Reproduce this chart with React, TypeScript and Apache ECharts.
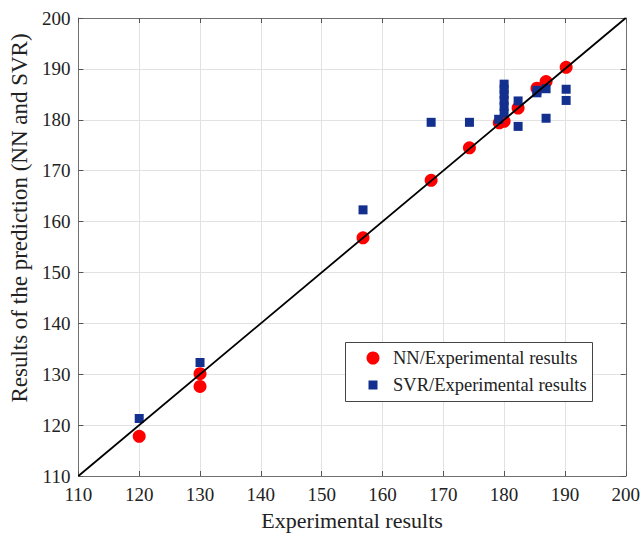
import React, { useEffect, useRef } from "react";
import * as echarts from "echarts";

const nnData: number[][] = [
  [120, 117.8], [130, 130.1], [130, 127.6], [156.8, 156.8], [168, 168.1],
  [174.3, 174.5], [179.2, 179.4], [180, 179.7], [182.3, 182.3],
  [185.4, 186.2], [186.9, 187.5], [190.2, 190.3],
];

const svrData: number[][] = [
  [120, 121.3], [130, 132.3], [156.8, 162.3], [168, 179.5], [174.3, 179.5],
  [179.1, 180.1], [180, 187.0], [180, 186.0], [180, 185.0], [180, 183.8],
  [180, 182.6], [180, 181.3], [182.3, 183.7], [182.3, 178.7],
  [185.4, 185.8], [185.4, 185.3], [186.9, 186.1], [186.9, 180.3],
  [190.2, 186.0], [190.2, 183.8],
];

const identityLine: number[][] = [[110, 110], [200, 200]];

const axisMin = 110;
const axisMax = 200;
const axisStep = 10;

const legendLabels = ["NN/Experimental results", "SVR/Experimental results"];
const xTitle = "Experimental results";
const yTitle = "Results of the prediction (NN and SVR)";

const FONT = "'Liberation Serif', 'Times New Roman', serif";

export default function App() {
  const ref = useRef<HTMLDivElement>(null);
  useEffect(() => {
    if (!ref.current) return;
    const chart = echarts.init(ref.current, null, { renderer: "svg" });
    const axisCommon = {
      type: "value" as const,
      min: axisMin,
      max: axisMax,
      interval: axisStep,
      axisLine: { show: true, lineStyle: { color: "#707070", width: 1 } },
      axisTick: { show: true, inside: true, length: 5, lineStyle: { color: "#555" } },
    };
    chart.setOption({
      animation: false,
      backgroundColor: "#fff",
      grid: { left: 78, top: 18, right: 16, bottom: 58, containLabel: false },
      xAxis: [
        {
          ...axisCommon,
          position: "bottom",
          name: xTitle,
          nameLocation: "middle",
          nameGap: 33,
          nameTextStyle: { fontFamily: FONT, fontSize: 22, color: "#222" },
          axisLabel: { fontFamily: FONT, fontSize: 19, color: "#222", margin: 9 },
          splitLine: { show: true, lineStyle: { color: "#e2e2e2", width: 1 } },
        },
        {
          ...axisCommon,
          position: "top",
          axisLabel: { show: false },
          splitLine: { show: false },
        },
      ],
      yAxis: [
        {
          ...axisCommon,
          position: "left",
          name: yTitle,
          nameLocation: "middle",
          nameGap: 44,
          nameTextStyle: {
            fontFamily: FONT,
            fontSize: 23,
            color: "#222",
            padding: [0, 0, 0, 58],
          },
          axisLabel: { fontFamily: FONT, fontSize: 19, color: "#222", margin: 8 },
          splitLine: { show: true, lineStyle: { color: "#e2e2e2", width: 1 } },
        },
        {
          ...axisCommon,
          position: "right",
          axisLabel: { show: false },
          splitLine: { show: false },
        },
      ],
      series: [
        {
          name: legendLabels[0],
          type: "scatter",
          data: nnData,
          symbol: "circle",
          symbolSize: 13,
          itemStyle: { color: "#ff0000", opacity: 1 },
          z: 2,
        },
        {
          name: legendLabels[1],
          type: "scatter",
          data: svrData,
          symbol: "rect",
          symbolSize: 9,
          itemStyle: { color: "#14308f", opacity: 1 },
          z: 3,
        },
        {
          type: "line",
          data: identityLine,
          symbol: "none",
          lineStyle: { color: "#000", width: 1.8 },
          z: 4,
        },
      ],
      graphic: [
        {
          type: "rect",
          left: 345,
          top: 342,
          shape: { width: 247, height: 59 },
          style: { fill: "#fff", stroke: "#444", lineWidth: 1 },
          z: 10,
        },
        {
          type: "circle",
          shape: { cx: 373, cy: 358, r: 6.5 },
          style: { fill: "#ff0000" },
          z: 11,
        },
        {
          type: "rect",
          shape: { x: 368.5, y: 380.5, width: 9, height: 9 },
          style: { fill: "#14308f" },
          z: 11,
        },
        {
          type: "text",
          x: 393,
          y: 358,
          style: {
            text: legendLabels[0],
            font: `18.5px ${FONT}`,
            fill: "#222",
            verticalAlign: "middle",
          },
          z: 11,
        },
        {
          type: "text",
          x: 393,
          y: 385,
          style: {
            text: legendLabels[1],
            font: `18.5px ${FONT}`,
            fill: "#222",
            verticalAlign: "middle",
          },
          z: 11,
        },
      ],
    });
    return () => chart.dispose();
  }, []);
  return <div ref={ref} style={{ width: 643, height: 536, position: "absolute", left: 0, top: 0 }} />;
}
